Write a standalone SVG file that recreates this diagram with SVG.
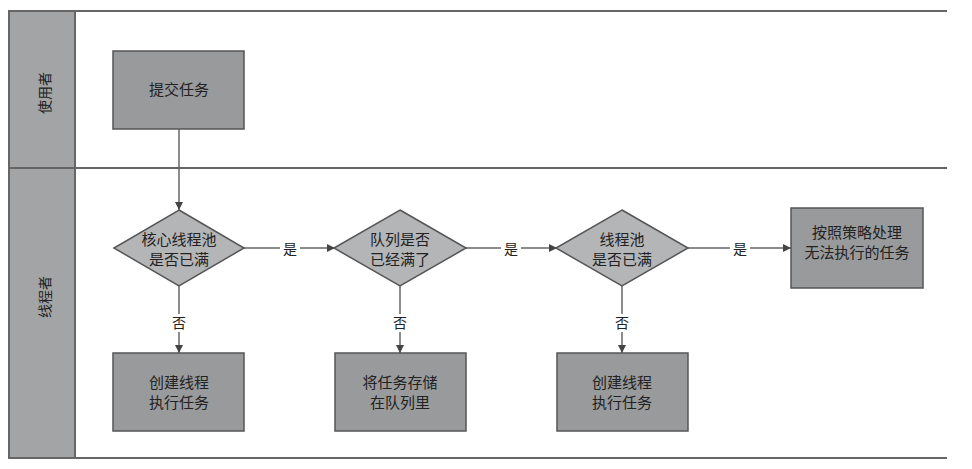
<svg xmlns="http://www.w3.org/2000/svg" width="972" height="469" viewBox="0 0 972 469">
<style>
.box{fill:#999a9c;stroke:#555;stroke-width:1.5}
.dia{fill:#b4b5b7;stroke:#555;stroke-width:1.5}
.t{font-family:"Liberation Serif","Noto Sans CJK SC",serif;font-size:15px;fill:#222;text-anchor:middle}
.lbl{font-family:"Liberation Serif","Noto Sans CJK SC",serif;font-size:14px;fill:#222;text-anchor:middle}
.ln{stroke:#666;stroke-width:2;fill:none}
.c{stroke:#666;stroke-width:1.5;fill:none;marker-end:url(#a)}
</style>
<defs><marker id="a" viewBox="0 0 10 10" refX="10" refY="5" markerWidth="8" markerHeight="8" orient="auto" markerUnits="userSpaceOnUse"><path d="M0,0L10,5L0,10z" fill="#444"/></marker></defs>
<rect width="972" height="469" fill="#fff"/>
<g id="lanes">
<rect x="9" y="11" width="66" height="447" fill="#a3a4a6" stroke="#666" stroke-width="2"/>
<line class="ln" x1="8" y1="11" x2="947" y2="11"/>
<line class="ln" x1="8" y1="168" x2="947" y2="168"/>
<line class="ln" x1="8" y1="458" x2="947" y2="458"/>
<text class="lbl" transform="translate(45,93) rotate(-90)" dy="5">使用者</text>
<text class="lbl" transform="translate(45,297) rotate(-90)" dy="5">线程者</text>
</g>
<g id="connectors">
<line class="c" x1="179" y1="129" x2="179" y2="210"/>
<line class="c" x1="179" y1="286" x2="179" y2="353"/>
<line class="c" x1="400" y1="286" x2="400" y2="353"/>
<line class="c" x1="622" y1="286" x2="622" y2="353"/>
<line class="c" x1="244" y1="248" x2="335" y2="248"/>
<line class="c" x1="466" y1="248" x2="557" y2="248"/>
<line class="c" x1="688" y1="248" x2="791" y2="248"/>
<g class="lbl">
<rect x="280" y="240" width="20" height="18" fill="#fff"/><text class="lbl" x="290" y="254">是</text>
<rect x="501" y="240" width="20" height="18" fill="#fff"/><text class="lbl" x="511" y="254">是</text>
<rect x="730" y="240" width="20" height="18" fill="#fff"/><text class="lbl" x="740" y="254">是</text>
<rect x="170" y="314" width="18" height="18" fill="#fff"/><text class="lbl" x="179" y="328">否</text>
<rect x="391" y="314" width="18" height="18" fill="#fff"/><text class="lbl" x="400" y="328">否</text>
<rect x="613" y="314" width="18" height="18" fill="#fff"/><text class="lbl" x="622" y="328">否</text>
</g>
</g>
<g id="submit"><rect class="box" x="113" y="51" width="131" height="78"/><text class="t" x="179" y="95">提交任务</text></g>
<g id="d1"><polygon class="dia" points="179,210 244,248 179,286 114,248"/><text class="t" x="179" y="245">核心线程池</text><text class="t" x="179" y="265">是否已满</text></g>
<g id="d2"><polygon class="dia" points="400,210 466,248 400,286 334,248"/><text class="t" x="400" y="245">队列是否</text><text class="t" x="400" y="265">已经满了</text></g>
<g id="d3"><polygon class="dia" points="622,210 688,248 622,286 556,248"/><text class="t" x="622" y="245">线程池</text><text class="t" x="622" y="265">是否已满</text></g>
<g id="reject"><rect class="box" x="791" y="208" width="132" height="80"/><text class="t" x="857" y="238">按照策略处理</text><text class="t" x="857" y="258">无法执行的任务</text></g>
<g id="b1"><rect class="box" x="113" y="353" width="131" height="78"/><text class="t" x="179" y="388">创建线程</text><text class="t" x="179" y="408">执行任务</text></g>
<g id="b2"><rect class="box" x="335" y="353" width="131" height="78"/><text class="t" x="400" y="388">将任务存储</text><text class="t" x="400" y="408">在队列里</text></g>
<g id="b3"><rect class="box" x="557" y="353" width="131" height="78"/><text class="t" x="622" y="388">创建线程</text><text class="t" x="622" y="408">执行任务</text></g>
</svg>
